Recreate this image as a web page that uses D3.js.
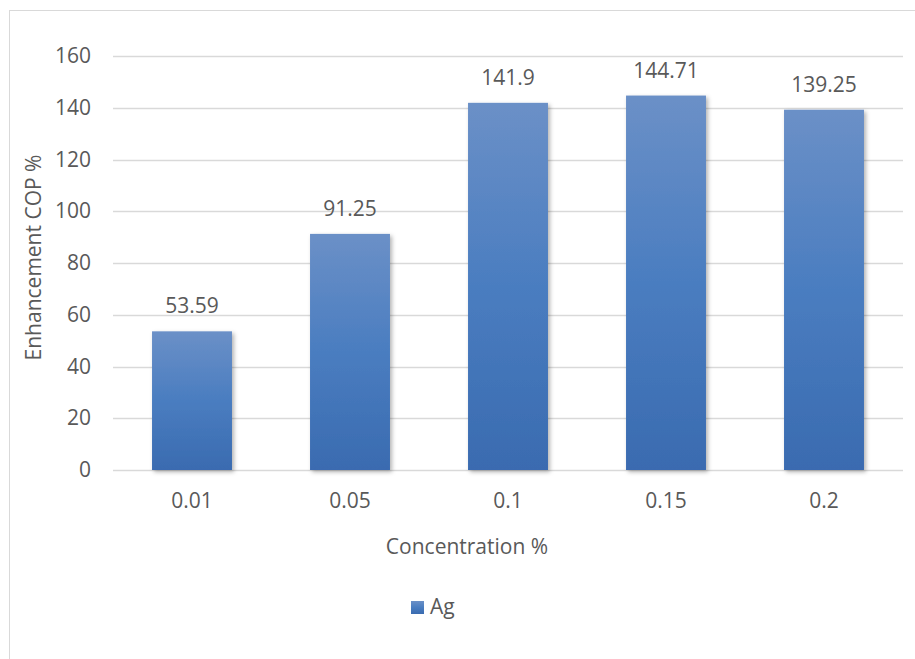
<!DOCTYPE html>
<html>
<head>
<meta charset="utf-8">
<script src="https://cdn.jsdelivr.net/npm/d3@7"></script>
<style>
  html, body { margin: 0; padding: 0; background: #fff; }
  svg { display: block; }
  text { font-family: "Open Sans", sans-serif; fill: #595959; }
</style>
</head>
<body>
<svg id="chart" width="915" height="659"></svg>
<script>
// Enhancement in COP for Ag nanofluid at each concentration
const categories = ["0.01", "0.05", "0.1", "0.15", "0.2"];
const agValues = [53.59, 91.25, 141.9, 144.71, 139.25];
const yTicks = [0, 20, 40, 60, 80, 100, 120, 140, 160];
const seriesName = "Ag";

const svg = d3.select("#chart");
const W = 915, H = 659;
const plot = { left: 113, right: 903, top: 56, bottom: 470 };

// outer chart frame
svg.append("rect")
  .attr("x", 9.5).attr("y", 10.5)
  .attr("width", 930).attr("height", 700)
  .attr("fill", "#fff").attr("stroke", "#d9d9d9").attr("stroke-width", 1);

const defs = svg.append("defs");
const grad = defs.append("linearGradient")
  .attr("id", "barFill").attr("x1", 0).attr("y1", 0).attr("x2", 0).attr("y2", 1);
grad.append("stop").attr("offset", "0%").attr("stop-color", "#6b90c7");
grad.append("stop").attr("offset", "50%").attr("stop-color", "#4a7dc0");
grad.append("stop").attr("offset", "100%").attr("stop-color", "#3a6bb0");

const shadow = defs.append("filter").attr("id", "barShadow")
  .attr("x", "-10%").attr("y", "-10%").attr("width", "130%").attr("height", "130%");
shadow.append("feDropShadow")
  .attr("dx", 2).attr("dy", 2).attr("stdDeviation", 2)
  .attr("flood-color", "#000").attr("flood-opacity", 0.3);

const x = d3.scaleBand().domain(categories)
  .range([plot.left, plot.right]).paddingInner(0.494).paddingOuter(0.247);
const y = d3.scaleLinear().domain([0, 160]).range([plot.bottom, plot.top]);

// horizontal gridlines
svg.append("g").selectAll("line").data(yTicks).join("line")
  .attr("x1", plot.left).attr("x2", plot.right)
  .attr("y1", d => Math.round(y(d)) + 0.5).attr("y2", d => Math.round(y(d)) + 0.5)
  .attr("stroke", "#d9d9d9").attr("stroke-width", 1.3);

// y tick labels
const yAxis = d3.axisLeft(y).tickValues(yTicks).tickSize(0).tickPadding(0);
const gy = svg.append("g").attr("transform", `translate(${plot.left - 22},0)`).call(yAxis);
gy.select(".domain").remove();
gy.selectAll("text").style("font-size", "21px").attr("fill", "#595959")
  .style("font-family", "'Open Sans', sans-serif");

// bars
svg.append("g").selectAll("rect").data(agValues).join("rect")
  .attr("x", (d, i) => x(categories[i]))
  .attr("y", d => y(d))
  .attr("width", x.bandwidth())
  .attr("height", d => y(0) - y(d))
  .attr("fill", "url(#barFill)")
  .attr("filter", "url(#barShadow)");

// value labels
svg.append("g").selectAll("text").data(agValues).join("text")
  .attr("x", (d, i) => x(categories[i]) + x.bandwidth() / 2)
  .attr("y", d => y(d) - 18)
  .attr("text-anchor", "middle")
  .style("font-size", "21px")
  .attr("fill", "#404040")
  .text(d => d);

// x tick labels
const xAxis = d3.axisBottom(x).tickSize(0).tickPadding(0);
const gx = svg.append("g").attr("transform", `translate(0,${plot.bottom + 23})`).call(xAxis);
gx.select(".domain").remove();
gx.selectAll("text").style("font-size", "21px").attr("fill", "#595959")
  .style("font-family", "'Open Sans', sans-serif");

// axis titles
svg.append("text")
  .attr("transform", `translate(41,${(153 + 362) / 2}) rotate(-90)`)
  .attr("text-anchor", "middle")
  .style("font-size", "21px")
  .text("Enhancement COP %");

svg.append("text")
  .attr("x", 467).attr("y", 554)
  .attr("text-anchor", "middle")
  .style("font-size", "21px")
  .text("Concentration %");

// legend
const lg = svg.append("g").attr("transform", "translate(411,601)");
lg.append("rect").attr("width", 13).attr("height", 13).attr("fill", "url(#barFill)");
lg.append("text").attr("x", 19).attr("y", 13).style("font-size", "21px").text(seriesName);
</script>
</body>
</html>
